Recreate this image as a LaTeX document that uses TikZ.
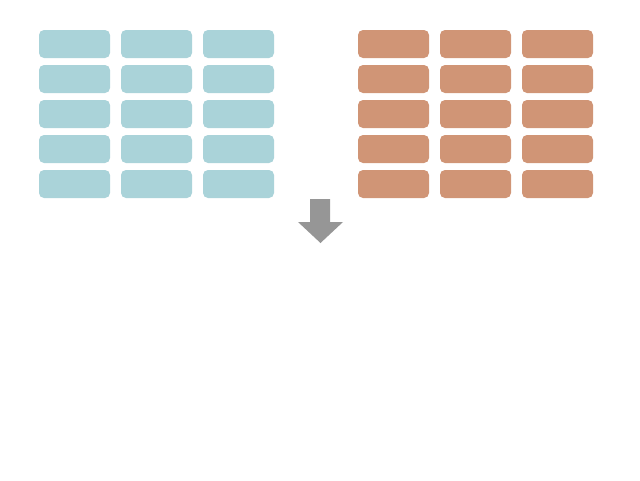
\documentclass[tikz,border=0pt]{standalone}
\usetikzlibrary{positioning}
\definecolor{paleteal}{RGB}{170,211,217}
\definecolor{clay}{RGB}{208,149,118}
\definecolor{arrowgray}{RGB}{150,150,150}
\tikzset{every picture/.style={x=1pt,y=-1pt}}
\tikzset{cell/.style={rectangle, rounded corners=5pt, minimum width=71pt, minimum height=28pt, inner sep=0pt}}
\newcommand{\rowy}[1]{44+35*(#1-1)}

\begin{document}
\begin{tikzpicture}
        \useasboundingbox (0,0) rectangle (640,480);
        \foreach \r in {1,...,5}{
            \foreach \c in {1,...,3}{
                \node[cell, fill=paleteal] (left-\r-\c) at ({74.5+82*(\c-1)},{\rowy{\r}}) {};
                \node[cell, fill=clay] (right-\r-\c) at ({393.5+82*(\c-1)},{\rowy{\r}}) {};
            }
        }
        % block arrow pointing down
        \fill[arrowgray] (310,199) -- (330,199) -- (330,222) -- (343,222) -- (320.5,243) -- (298,222) -- (310,222) -- cycle;
    \end{tikzpicture}
\end{document}
